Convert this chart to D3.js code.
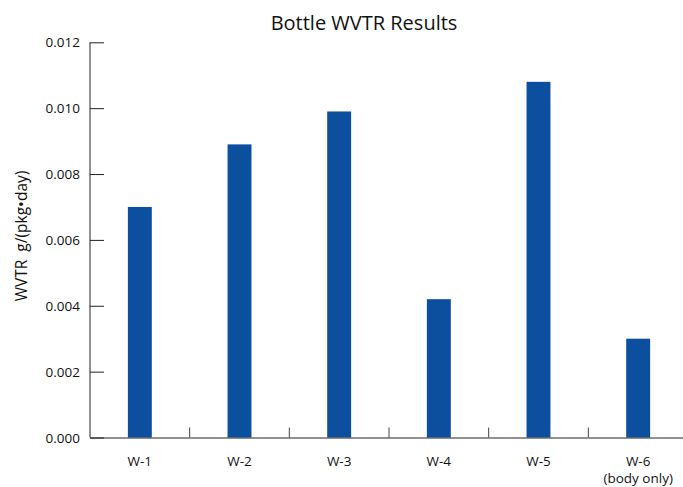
<!DOCTYPE html>
<html><head><meta charset="utf-8">
<script src="https://cdn.jsdelivr.net/npm/d3@7"></script>
<style>body{margin:0;background:#fff}svg{display:block}text{font-family:"Open Sans",sans-serif;fill:#111}</style>
</head><body><svg id="c" width="683" height="487"></svg>
<script>
const categories = ["W-1","W-2","W-3","W-4","W-5","W-6"];
const subLabels = ["","","","","","(body only)"];
const values = [0.0070,0.0089,0.0099,0.0042,0.0108,0.0030];
const yTicks = [0,0.002,0.004,0.006,0.008,0.010,0.012];

const svg = d3.select("#c");
const x = d3.scaleBand().domain(categories).range([90,688]).paddingInner(0.76).paddingOuter(0.38);
const y = d3.scaleLinear().domain([0,0.012]).range([437.5,42.3]);

// bars
svg.selectAll("rect.bar").data(values).join("rect")
  .attr("x",(d,i)=>x(categories[i])).attr("width",x.bandwidth())
  .attr("y",d=>y(d)).attr("height",d=>y(0)-y(d)).attr("fill","#0c4f9e");

// y axis
const ya = svg.append("g").attr("transform","translate(90,0)")
  .call(d3.axisRight(y).tickValues(yTicks).tickSize(14).tickFormat(""));
ya.select(".domain").attr("d",`M0,${y(0.012)}V${y(0)}`).attr("stroke","#222");
ya.selectAll(".tick line").attr("stroke","#222");
svg.selectAll("text.yl").data(yTicks).join("text").attr("class","yl")
  .attr("x",80).attr("y",d=>y(d)+5).attr("text-anchor","end").attr("font-size",13.5)
  .text(d3.format(".3f"));

// x axis
const bounds = categories.map((c,i)=>x(c)-x.step()*x.paddingInner()/2).slice(1).concat([x.range()[1]]);
svg.append("line").attr("x1",90).attr("x2",683).attr("y1",y(0)+0.5).attr("y2",y(0)+0.5).attr("stroke","#222");
svg.selectAll("line.xt").data(bounds).join("line").attr("class","xt")
  .attr("x1",d=>d).attr("x2",d=>d).attr("y1",y(0)).attr("y2",y(0)-10).attr("stroke","#444");
svg.selectAll("text.xl").data(categories).join("text").attr("class","xl")
  .attr("x",d=>x(d)+x.bandwidth()/2).attr("y",466).attr("text-anchor","middle").attr("font-size",13.5).text(d=>d);
svg.selectAll("text.xs").data(subLabels).join("text").attr("class","xs")
  .attr("x",(d,i)=>x(categories[i])+x.bandwidth()/2).attr("y",483).attr("text-anchor","middle").attr("font-size",13.5).text(d=>d);

// title & axis label
svg.append("text").attr("x",364).attr("y",30).attr("text-anchor","middle").attr("font-size",20).text("Bottle WVTR Results");
svg.append("text").attr("transform","translate(27,236) rotate(-90)").attr("text-anchor","middle").attr("font-size",15.5)
  .attr("xml:space","preserve").text("WVTR  g/(pkg•day)");
</script></body></html>
